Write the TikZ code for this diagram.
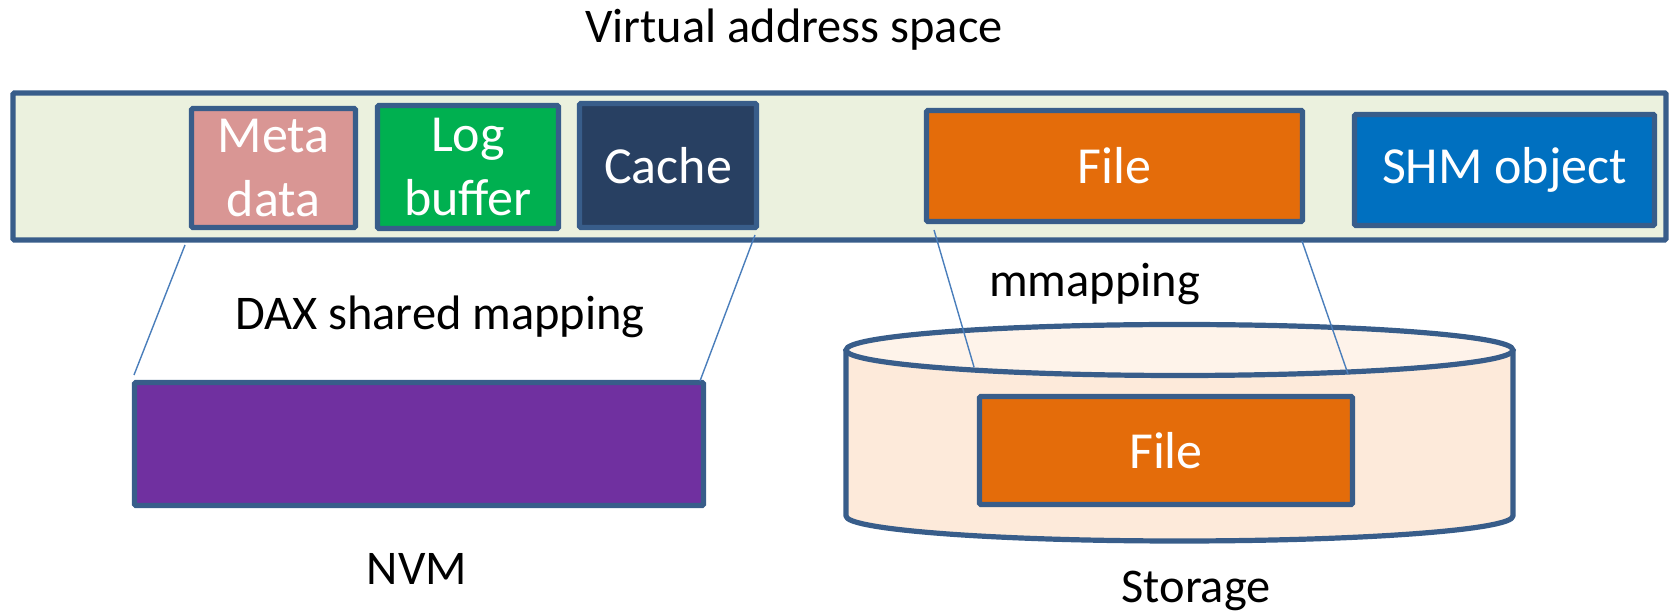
\documentclass[tikz,border=0pt]{standalone}
\usepackage{fontspec}
\setmainfont{Carlito}
\definecolor{edge}{HTML}{385D8A}
\definecolor{link}{HTML}{4A7EBB}
\definecolor{vaspace}{HTML}{EBF1DE}
\definecolor{metafill}{HTML}{D99694}
\definecolor{logfill}{HTML}{00B050}
\definecolor{cachefill}{HTML}{284062}
\definecolor{filefill}{HTML}{E46C0A}
\definecolor{shmfill}{HTML}{0070C0}
\definecolor{nvmfill}{HTML}{7030A0}
\definecolor{diskbody}{HTML}{FDEADA}
\definecolor{disktop}{HTML}{FEF3EA}
\begin{document}
\begin{tikzpicture}[x=0.5pt,y=-0.5pt,
  box/.style={draw=edge, line width=2.6pt, text=white, align=center,
              inner sep=0pt, rounded corners=0.6pt,
              font=\fontsize{26}{32}\selectfont},
  lbl/.style={anchor=base, inner sep=0pt, font=\fontsize{24.2}{29}\selectfont},
  maplink/.style={draw=link, line width=0.7pt}]
\useasboundingbox (0,0) rectangle (1670,613);

% virtual address space bar and its regions
\node[box, fill=vaspace, minimum width=826.5pt, minimum height=73.5pt] (vas) at (839.5,166.5) {};
\node[box, fill=metafill, minimum width=82pt, minimum height=59.5pt] (meta) at (273.5,168) {Meta\\data};
\node[box, fill=logfill, minimum width=90.5pt, minimum height=61.5pt] (logbuf) at (468,167) {Log\\buffer};
\node[box, fill=cachefill, minimum width=88.5pt, minimum height=62pt] (cache) at (668,165.5) {Cache};
\node[box, fill=filefill, minimum width=188pt, minimum height=55.5pt] (vfile) at (1114.5,166) {File};
\node[box, fill=shmfill, minimum width=150pt, minimum height=55.5pt] (shm) at (1504.5,170) {SHM object};

\node[lbl] (title) at (794,43) {Virtual address space};

% NVM device
\node[box, fill=nvmfill, minimum width=284.5pt, minimum height=61.5pt] (nvm) at (419,444) {};
\node[lbl] (nvmlabel) at (417,585) {NVM};
\node[lbl] (daxlabel) at (440,330) {DAX shared mapping};

% storage cylinder
\fill[diskbody] (846,350) -- (846,516)
  arc[start angle=180, end angle=0, x radius=333.5, y radius=25] -- (1513,350) -- cycle;
\draw[edge, line width=2.6pt, line join=round] (846,350) -- (846,516)
  arc[start angle=180, end angle=0, x radius=333.5, y radius=25] -- (1513,350);
\draw[edge, line width=2.6pt, fill=disktop] (1179.5,350) ellipse[x radius=333.5, y radius=25.5];
\node[box, fill=filefill, minimum width=186.5pt, minimum height=54pt] (sfile) at (1166,450.5) {File};
\node[lbl] (storagelabel) at (1196,603) {Storage};
\node[lbl] (mmaplabel) at (1094.5,297) {mmapping};

% mapping lines
\coordinate (daxLa) at (185,245);
\coordinate (daxLb) at (134,375);
\coordinate (daxRa) at (755,235);
\coordinate (daxRb) at (700,381);
\coordinate (mmLa) at (934,230);
\coordinate (mmLb) at (974,367);
\coordinate (mmRa) at (1302,241);
\coordinate (mmRb) at (1348,374);
\draw[maplink] (daxLa) -- (daxLb);
\draw[maplink] (daxRa) -- (daxRb);
\draw[maplink] (mmLa) -- (mmLb);
\draw[maplink] (mmRa) -- (mmRb);
\end{tikzpicture}
\end{document}
